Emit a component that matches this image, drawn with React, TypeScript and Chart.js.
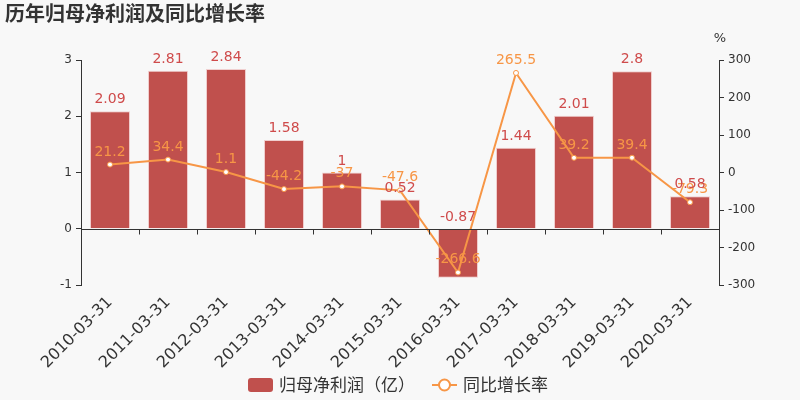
import { useEffect, useRef } from 'react';
import { Chart, registerables } from 'chart.js';

Chart.register(...registerables);

const dates = [
  '2010-03-31', '2011-03-31', '2012-03-31', '2013-03-31', '2014-03-31', '2015-03-31',
  '2016-03-31', '2017-03-31', '2018-03-31', '2019-03-31', '2020-03-31',
];
// 归母净利润（亿）
const netProfit = [2.09, 2.81, 2.84, 1.58, 1, 0.52, -0.87, 1.44, 2.01, 2.8, 0.58];
// 同比增长率 (%)
const growthRate = [21.2, 34.4, 1.1, -44.2, -37, -47.6, -266.6, 265.5, 39.2, 39.4, -79.3];

const BAR_COLOR = '#c0504d';
const BAR_LABEL = '#cf4b4b';
const LINE_COLOR = '#f79646';
const TEXT = '#333';
const FONT = '"DejaVu Sans", sans-serif';
const CJK = '"Noto Sans CJK SC", sans-serif';

const decor = {
  id: 'decor',
  beforeDraw(chart: any) {
    const { ctx, width, height } = chart;
    ctx.save();
    ctx.fillStyle = '#f8f8f8';
    ctx.fillRect(0, 0, width, height);
    ctx.restore();
  },
  afterDatasetsDraw(chart: any) {
    const { ctx, chartArea } = chart;
    const y0 = Math.round(chart.scales.y.getPixelForValue(0)) + 0.5;

    // axis line on zero with ticks at category boundaries
    ctx.save();
    ctx.strokeStyle = TEXT;
    ctx.lineWidth = 1;
    ctx.beginPath();
    ctx.moveTo(chartArea.left, y0);
    ctx.lineTo(chartArea.right, y0);
    const step = (chartArea.right - chartArea.left) / dates.length;
    for (let i = 0; i <= dates.length; i++) {
      const x = Math.round(chartArea.left + i * step) + 0.5;
      ctx.moveTo(x, y0);
      ctx.lineTo(x, y0 + 5);
    }
    ctx.stroke();

    // value labels
    ctx.font = '14px ' + FONT;
    ctx.textAlign = 'center';
    ctx.textBaseline = 'alphabetic';
    const lineMeta = chart.getDatasetMeta(1);
    ctx.fillStyle = LINE_COLOR;
    lineMeta.data.forEach((el: any, i: number) => {
      ctx.fillText(String(growthRate[i]), el.x, el.y - 9);
    });
    const barMeta = chart.getDatasetMeta(0);
    ctx.fillStyle = BAR_LABEL;
    barMeta.data.forEach((el: any, i: number) => {
      ctx.fillText(String(netProfit[i]), el.x, Math.min(el.y, el.base) - 8);
    });
    ctx.restore();
  },
  afterDraw(chart: any) {
    const { ctx, chartArea } = chart;
    ctx.save();
    // title
    ctx.fillStyle = TEXT;
    ctx.font = 'bold 20px ' + CJK;
    ctx.textAlign = 'left';
    ctx.textBaseline = 'middle';
    ctx.fillText('历年归母净利润及同比增长率', 5, 13);

    // unit of right axis
    ctx.font = '13px ' + FONT;
    ctx.textAlign = 'center';
    ctx.fillText('%', chartArea.right + 1, 39);

    // legend
    const ly = 385;
    ctx.fillStyle = BAR_COLOR;
    ctx.beginPath();
    ctx.roundRect(248, ly - 7, 25, 14, 3);
    ctx.fill();
    ctx.fillStyle = TEXT;
    ctx.font = '17px ' + CJK;
    ctx.textAlign = 'left';
    ctx.fillText('归母净利润（亿）', 279, ly);

    ctx.strokeStyle = LINE_COLOR;
    ctx.lineWidth = 2;
    ctx.beginPath();
    ctx.moveTo(432, ly);
    ctx.lineTo(457, ly);
    ctx.stroke();
    ctx.beginPath();
    ctx.arc(444.5, ly, 5.5, 0, Math.PI * 2);
    ctx.fillStyle = '#fff';
    ctx.fill();
    ctx.stroke();
    ctx.fillStyle = TEXT;
    ctx.fillText('同比增长率', 463, ly);
    ctx.restore();
  },
};

export default function App() {
  const canvasRef = useRef<HTMLCanvasElement>(null);
  const chartRef = useRef<Chart | null>(null);

  useEffect(() => {
    if (!canvasRef.current) return;
    if (chartRef.current) chartRef.current.destroy();

    chartRef.current = new Chart(canvasRef.current, {
      type: 'bar',
      data: {
        labels: dates,
        datasets: [
          {
            type: 'bar',
            label: '归母净利润（亿）',
            data: netProfit,
            backgroundColor: BAR_COLOR,
            borderColor: 'rgba(235, 180, 180, 0.6)',
            borderWidth: 1,
            barPercentage: 0.69,
            categoryPercentage: 1,
            yAxisID: 'y',
            order: 2,
          },
          {
            type: 'line',
            label: '同比增长率',
            data: growthRate,
            borderColor: LINE_COLOR,
            borderWidth: 2,
            pointRadius: 2.5,
            pointBorderWidth: 1,
            pointBackgroundColor: '#fff',
            pointBorderColor: LINE_COLOR,
            tension: 0,
            yAxisID: 'y1',
            order: 1,
          } as any,
        ],
      },
      options: {
        responsive: true,
        maintainAspectRatio: false,
        animation: false,
        layout: { padding: { top: 60, left: 0, right: 0, bottom: 0 } },
        plugins: {
          legend: { display: false },
          title: { display: false },
          tooltip: { enabled: false },
        },
        scales: {
          x: {
            offset: true,
            grid: { display: false },
            border: { display: false },
            ticks: {
              minRotation: 45,
              maxRotation: 45,
              autoSkip: false,
              color: TEXT,
              padding: 0,
              font: { size: 16, family: FONT },
            },
            afterFit: (axis: any) => {
              axis.height = 115;
            },
          },
          y: {
            position: 'left',
            min: -1,
            max: 3,
            ticks: { stepSize: 1, color: TEXT, padding: 4, font: { size: 12, family: FONT } },
            grid: { drawOnChartArea: false, drawTicks: true, tickLength: 5, color: TEXT },
            border: { display: true, color: TEXT },
            afterFit: (axis: any) => {
              axis.width = 81;
            },
          },
          y1: {
            position: 'right',
            min: -300,
            max: 300,
            ticks: { stepSize: 100, color: TEXT, padding: 4, font: { size: 12, family: FONT } },
            grid: { drawOnChartArea: false, drawTicks: true, tickLength: 5, color: TEXT },
            border: { display: true, color: TEXT },
            afterFit: (axis: any) => {
              axis.width = 81;
            },
          },
        },
      },
      plugins: [decor],
    });

    return () => {
      if (chartRef.current) {
        chartRef.current.destroy();
        chartRef.current = null;
      }
    };
  }, []);

  return (
    <div style={{ position: 'fixed', left: 0, top: 0, width: 800, height: 400 }}>
      <canvas ref={canvasRef} />
    </div>
  );
}
